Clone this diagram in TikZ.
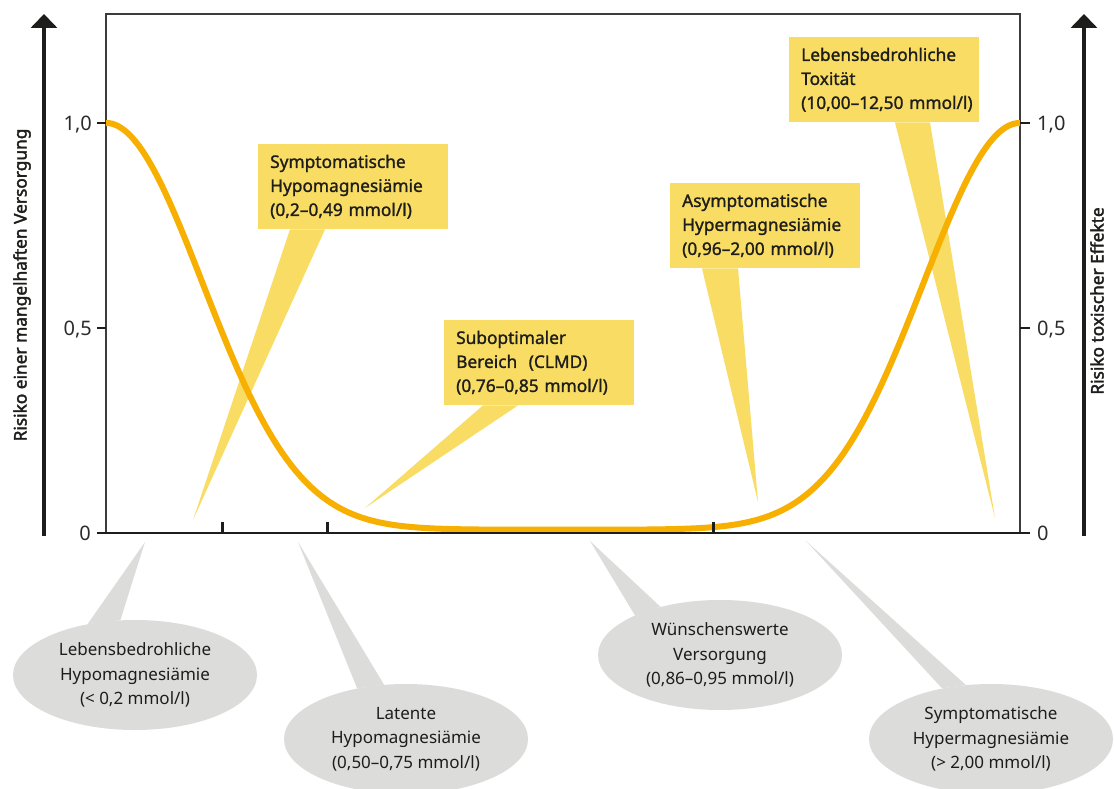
\documentclass[tikz,border=0pt]{standalone}
\usepackage{fontspec}
\setmainfont[Ligatures=TeX]{Noto Sans}
\newfontfamily\boxfont[Ligatures=TeX,FakeBold=1.3]{Noto Sans}
\newfontfamily\axfont[Ligatures=TeX,FakeBold=2.2]{Noto Sans}
\usetikzlibrary{shapes.geometric,arrows.meta}
\definecolor{ybox}{HTML}{F9DC63}
\definecolor{curvec}{HTML}{F7AF00}
\definecolor{gell}{HTML}{DCDCDB}
\definecolor{ink}{HTML}{1D1D1B}
\definecolor{framec}{HTML}{3C3C3B}
\definecolor{numc}{HTML}{2B2B2A}
\tikzset{
  callbox/.style={fill=ybox, anchor=north west, minimum width=190pt, minimum height=85pt,
    inner sep=0pt, text width=166pt, align=left, text=ink,
    font=\boxfont\fontsize{17.3}{24}\selectfont},
  callell/.style={ellipse, fill=gell, minimum width=244pt, minimum height=110pt,
    inner sep=0pt, align=center, text=ink, font=\fontsize{17}{24.5}\selectfont},
  ypointer/.style={fill=ybox},
  gpointer/.style={fill=gell},
  framest/.style={draw=framec, line width=1.3pt},
  axisst/.style={draw=ink, line width=2.4pt},
  ytickst/.style={draw=ink, line width=1.4pt},
  xtickst/.style={draw=ink, line width=3pt},
  curvest/.style={draw=curvec, line width=6pt},
  bigarrow/.style={draw=ink, line width=4pt, -{Triangle[width=26pt,length=14pt]}},
  numlab/.style={inner sep=0pt, text=numc, font=\fontsize{20}{24}\selectfont},
  axlab/.style={rotate=90, inner sep=0pt, text=ink, font=\axfont\fontsize{17.3}{20}\selectfont}
}
\begin{document}
\begin{tikzpicture}[x=1pt,y=-1pt]
\fill[white] (0,0) rectangle (1114,789);
\useasboundingbox (0,0) rectangle (1114,789);

% grey ellipses with pointers
\node[callell] (e1) at (135,675) {Lebensbedrohliche\\Hypomagnesiämie\\(< 0,2 mmol/l)};
\node[callell] (e2) at (406,739) {Latente\\Hypomagnesiämie\\(0,50–0,75 mmol/l)};
\node[callell] (e3) at (720,655) {Wünschenswerte\\Versorgung\\(0,86–0,95 mmol/l)};
\node[callell] (e4) at (991,739) {Symptomatische\\Hypermagnesiämie\\(> 2,00 mmol/l)};
\coordinate (te1) at (145,542);
\coordinate (te2) at (298,542);
\coordinate (te3) at (590,541);
\coordinate (te4) at (806,541);
\fill[gpointer] (te1) -- (e1.133) -- (e1.105) -- cycle;
\fill[gpointer] (te2) -- (e2.134) -- (e2.112) -- cycle;
\fill[gpointer] (te3) -- (e3.155) -- (e3.141) -- cycle;
\fill[gpointer] (te4) -- (e4.134) -- (e4.115) -- cycle;

% frame
\draw[framest] (106,533) -- (106,14) -- (1020,14) -- (1020,533);

% yellow boxes
\node[callbox] (b1) at (258,144) {Symptomatische\\Hypomagnesiämie\\\mbox{(0,2–0,49 mmol/l)}};
\node[callbox] (b2) at (444,320) {Suboptimaler\\\mbox{Bereich\ \ (CLMD)}\\\mbox{(0,76–0,85 mmol/l)}};
\node[callbox] (b3) at (670,183) {Asymptomatische\\Hypermagnesiämie\\\mbox{(0,96–2,00 mmol/l)}};
\node[callbox] (b4) at (789,37) {Lebensbedrohliche\\Toxität\\\mbox{(10,00–12,50 mmol/l)}\hfuzz=50pt};
\coordinate (tb1) at (193,520);
\coordinate (tb2) at (365,508);
\coordinate (tb3) at (758,502);
\coordinate (tb4) at (995,518);
\fill[ypointer] ([xshift=32pt]b1.south west) -- (tb1) -- ([xshift=67pt]b1.south west) -- cycle;
\fill[ypointer] ([xshift=39pt]b2.south west) -- (tb2) -- ([xshift=74pt]b2.south west) -- cycle;
\fill[ypointer] ([xshift=32pt]b3.south west) -- (tb3) -- ([xshift=68pt]b3.south west) -- cycle;
\fill[ypointer] ([xshift=106pt]b4.south west) -- (tb4) -- ([xshift=141pt]b4.south west) -- cycle;

% curve
\draw[curvest] plot[domain=106:563, samples=160]
  (\x, {533-410*(0.008+0.992*exp(-((\x-106)/136.5)*((\x-106)/136.5)))})
  -- plot[domain=563:1020, samples=160]
  (\x, {533-410*(0.008+0.992*exp(-((\x-1020)/136.5)*((\x-1020)/136.5)))});

% axes and ticks
\draw[axisst] (97,533) -- (1030,533);
\draw[ytickst] (97,123) -- (106,123);
\draw[ytickst] (97,328) -- (106,328);
\draw[ytickst] (1020,123) -- (1030,123);
\draw[ytickst] (1020,328) -- (1030,328);
\draw[xtickst] (222,533) -- (222,522);
\draw[xtickst] (327,533) -- (327,522);
\draw[xtickst] (713,533) -- (713,522);

% arrows
\draw[bigarrow] (44,536) -- (44,14);
\draw[bigarrow] (1084,536) -- (1084,14);

% numbers
\node[numlab, anchor=base east] (l10) at (92,130.5) {1,0};
\node[numlab, anchor=base east] (l05) at (92,335.5) {0,5};
\node[numlab, anchor=base east] (l00) at (91,540.5) {0};
\node[numlab, anchor=base west] (r10) at (1037,130.5) {1,0};
\node[numlab, anchor=base west] (r05) at (1037,335.5) {0,5};
\node[numlab, anchor=base west] (r00) at (1037,540.5) {0};

% axis titles
\node[axlab] (ylab) at (22,285) {Risiko einer mangelhaften Versorgung};
\node[axlab] (rlab) at (1097,301) {Risiko toxischer Effekte};
\end{tikzpicture}
\end{document}
